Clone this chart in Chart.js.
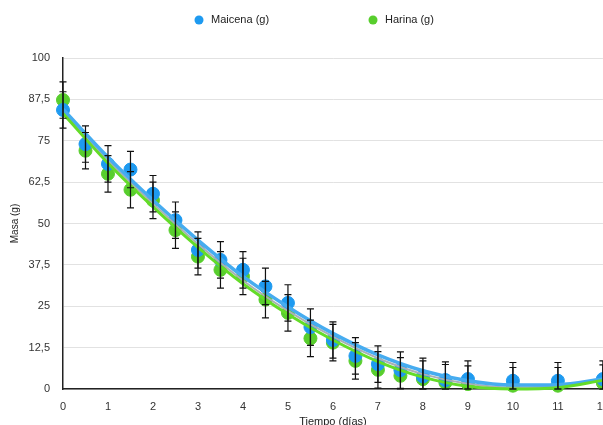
<!DOCTYPE html>
<html>
<head>
<meta charset="utf-8">
<script src="https://cdn.jsdelivr.net/npm/chart.js@4"></script>
<style>
  html, body { margin: 0; padding: 0; background: #fff; overflow: hidden; }
  #wrap { width: 612px; height: 429px; }
</style>
</head>
<body>
<div id="wrap"><canvas id="masaChart"></canvas></div>
<script>
// measured points (dias)
const dias = [0, 0.5, 1, 1.5, 2, 2.5, 3, 3.5, 4, 4.5, 5, 5.5, 6, 6.5, 7, 7.5, 8, 8.5, 9, 10, 11, 12];
const maicena = [84.3, 74, 68, 66.3, 59, 51, 42, 39, 36, 31, 26, 18.7, 14.8, 10, 7.5, 5.7, 3.8, 2.7, 3, 2.5, 2.5, 3];
const harina = [87.3, 72, 65, 60.2, 57, 48, 40, 36, 34, 27, 23, 15.3, 14, 8.5, 5.8, 4, 3, 1.9, 1.5, 1, 1, 1.8];
const errMaicena = [5.5, 5.5, 5.5, 5.5, 5.5, 5.5, 5.5, 5.5, 5.5, 5.5, 5.5, 5.5, 5.5, 5.5, 5.5, 5.5, 5.5, 5.5, 5.5, 5.5, 5.5, 5.5];
const errHarina = [5.5, 5.5, 5.5, 5.5, 5.5, 5.5, 5.5, 5.5, 5.5, 5.5, 5.5, 5.5, 5.5, 5.5, 5.5, 5.5, 5.5, 5.5, 5.5, 5.5, 5.5, 5.5];

// trend curves
const diasFit = [0, 1, 2, 3, 4, 5, 6, 7, 8, 9, 10, 11, 12];
const fitMaicena = [84.5, 70, 57, 45, 34, 24.8, 16.8, 10.3, 5.5, 2.5, 1.2, 1.3, 3];
const fitMedio = [83.8, 69, 56, 43.8, 32.8, 23.6, 15.8, 9.3, 4.5, 1.6, 0.5, 0.8, 2.8];
const fitHarina = [83.2, 68.2, 55, 42.8, 31.8, 22.6, 14.8, 8.3, 3.6, 0.8, 0, 0.4, 2.6];

const yTicks = [0, 12.5, 25, 37.5, 50, 62.5, 75, 87.5, 100];

const AZUL = 'rgb(30,154,240)';
const VERDE = 'rgb(88,206,45)';
const FONT = '"Liberation Sans", Arial, Helvetica, sans-serif';

const pts = (xs, ys) => xs.map((x, i) => ({ x, y: ys[i] }));

// error bars on top of everything
const errorBars = {
  id: 'errorBars',
  afterDatasetsDraw(chart, args, opts) {
    const ctx = chart.ctx;
    const xs = chart.scales.x, ys = chart.scales.y;
    const area = chart.chartArea;
    ctx.save();
    ctx.strokeStyle = '#111';
    ctx.lineWidth = 1.2;
    opts.sets.forEach(s => {
      s.y.forEach((v, i) => {
        const px = xs.getPixelForValue(s.x[i]);
        const top = ys.getPixelForValue(v + s.err[i]);
        const bot = Math.min(ys.getPixelForValue(Math.max(0, v - s.err[i])), area.bottom);
        ctx.beginPath();
        ctx.moveTo(px, top); ctx.lineTo(px, bot);
        ctx.moveTo(px - 3.5, top); ctx.lineTo(px + 3.5, top);
        ctx.moveTo(px - 3.5, bot); ctx.lineTo(px + 3.5, bot);
        ctx.stroke();
      });
    });
    ctx.restore();
  }
};

// legend row drawn at fixed spots
const legendRow = {
  id: 'legendRow',
  afterDraw(chart, args, opts) {
    const ctx = chart.ctx;
    ctx.save();
    ctx.font = '11px ' + FONT;
    ctx.textBaseline = 'middle';
    opts.items.forEach(it => {
      ctx.fillStyle = it.color;
      ctx.beginPath();
      ctx.arc(it.x, opts.y, 4.5, 0, Math.PI * 2);
      ctx.fill();
      ctx.fillStyle = '#222';
      ctx.fillText(it.text, it.x + 12, opts.y);
    });
    ctx.restore();
  }
};

new Chart(document.getElementById('masaChart'), {
  type: 'scatter',
  data: {
    datasets: [
      { label: 'fitMaicena', type: 'line', data: pts(diasFit, fitMaicena), borderColor: 'rgb(70,172,240)', borderWidth: 3.5, pointRadius: 0, cubicInterpolationMode: 'monotone', clip: false, order: 1 },
      { label: 'fitMedio', type: 'line', data: pts(diasFit, fitMedio), borderColor: 'rgb(170,175,180)', borderWidth: 2, pointRadius: 0, cubicInterpolationMode: 'monotone', clip: false, order: 2 },
      { label: 'fitHarina', type: 'line', data: pts(diasFit, fitHarina), borderColor: 'rgb(100,220,40)', borderWidth: 3, pointRadius: 0, cubicInterpolationMode: 'monotone', clip: false, order: 0 },
      { label: 'Maicena (g)', data: pts(dias, maicena), backgroundColor: AZUL, borderColor: AZUL, pointRadius: 6.5, clip: false, order: 3 },
      { label: 'Harina (g)', data: pts(dias, harina), backgroundColor: VERDE, borderColor: VERDE, pointRadius: 6.5, clip: false, order: 4 }
    ]
  },
  options: {
    responsive: true,
    maintainAspectRatio: false,
    animation: false,
    layout: { padding: { top: 58, left: 0, right: 0, bottom: 0 } },
    plugins: {
      legend: { display: false },
      tooltip: { enabled: false },
      errorBars: {
        sets: [
          { x: dias, y: harina, err: errHarina },
          { x: dias, y: maicena, err: errMaicena }
        ]
      },
      legendRow: {
        y: 20,
        items: [
          { text: 'Maicena (g)', color: AZUL, x: 199 },
          { text: 'Harina (g)', color: VERDE, x: 373 }
        ]
      }
    },
    scales: {
      x: {
        type: 'linear', min: 0, max: 12,
        grid: { display: false },
        border: { display: true, color: '#222', width: 1.5 },
        ticks: { stepSize: 1, padding: 3, color: '#333', font: { family: FONT, size: 11 } },
        title: { display: true, text: 'Tiempo (días)', color: '#222', font: { family: FONT, size: 11 }, padding: { top: 4, bottom: 0 } },
        afterFit(s) { s.height = 40; }
      },
      y: {
        min: 0, max: 100,
        afterBuildTicks(s) { s.ticks = yTicks.map(v => ({ value: v })); },
        grid: { color: '#e2e2e2', lineWidth: 1, drawTicks: false },
        border: { display: true, color: '#222', width: 1.5 },
        ticks: { padding: 13, color: '#333', font: { family: FONT, size: 11 }, callback: v => String(v).replace('.', ',') },
        title: { display: true, text: 'Masa (g)', color: '#222', font: { family: FONT, size: 10 }, padding: { top: 9, bottom: 4 } },
        afterFit(s) { s.width = 63; }
      }
    }
  },
  plugins: [errorBars, legendRow]
});
</script>
</body>
</html>
